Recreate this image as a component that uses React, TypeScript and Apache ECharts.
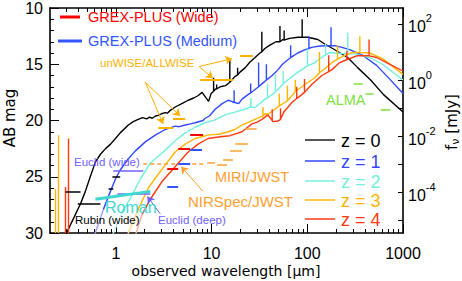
import React, { useEffect, useRef } from "react";
import * as echarts from "echarts";

// ---------- axis ticks ----------
const xMajorTicks = [1, 10, 100, 1000];
const xMinorTicks = [0.3, 0.4, 0.5, 0.6, 0.7, 0.8, 0.9, 2, 3, 4, 5, 6, 7, 8, 9, 20, 30, 40, 50, 60, 70, 80, 90, 200, 300, 400, 500, 600, 700, 800, 900];
const yMajorTicks = [10, 15, 20, 25, 30];
const yMinorTicks = [11, 12, 13, 14, 16, 17, 18, 19, 21, 22, 23, 24, 26, 27, 28, 29];
const fluxTickExponents = [-5, -4, -3, -2, -1, 0, 1, 2];
const fluxLabelExponents = [-4, -2, 0, 2];
const AB_OF_1MJY = 16.4; // AB = 16.4 - 2.5 log10(f / mJy)
const X_MIN = 0.205, X_MAX = 1000, AB_MIN = 10, AB_MAX = 30;

// ---------- SED curves: [wavelength um, AB mag] ----------
const z0Continuum = [[0.27, 31.0], [0.313, 29.8], [0.352, 28.9], [0.427, 27.4], [0.48, 26.3], [0.54, 25.0], [0.61, 23.7], [0.69, 23.0], [0.78, 22.5], [0.88, 22.1], [0.99, 21.6], [1.11, 21.1], [1.35, 20.4], [1.52, 20.1], [1.71, 19.9], [1.9, 19.75], [2.1, 19.85], [2.25, 19.7], [2.4, 19.8], [2.6, 19.6], [2.77, 19.55], [3.0, 19.4], [3.28, 19.3], [3.45, 19.35], [3.7, 19.1], [4.17, 18.8], [5.0, 18.45], [5.7, 18.2], [6.5, 18.0], [7.2, 17.8], [7.96, 17.5], [8.6, 17.9], [9.3, 18.3], [9.9, 17.6], [11.0, 17.2], [12.3, 17.0], [14.0, 16.9], [15.6, 16.6], [17.5, 16.1], [19.8, 15.7], [22.5, 15.3], [25.2, 14.8], [28.5, 14.4], [32, 14.0], [36, 13.6], [40.7, 13.3], [47, 13.0], [55.6, 12.8], [65, 12.7], [80, 12.6], [101, 12.6], [129, 12.8], [152, 13.2], [184, 13.6], [264, 14.4], [336, 15.3], [459, 16.4], [626, 17.7], [1000, 19.25]];
const z0Lines = [[10.5, 17.4, 16.2], [11.3, 17.2, 16.8], [15.5, 16.6, 14.6], [18.7, 15.95, 15.3], [33.5, 13.9, 12.1], [51.8, 13.0, 11.6], [57.3, 12.85, 12.0], [88.4, 12.6, 11.0]];

const z1Lower = [[0.597, 30.2], [0.741, 27.9]];
const z1Continuum = [[0.741, 27.9], [0.877, 26.3], [0.99, 25.2], [1.11, 24.4], [1.35, 23.4], [1.6, 22.7], [2.03, 21.9], [2.58, 21.3], [3.28, 20.8], [4.17, 20.5], [4.6, 20.55], [5.3, 20.4], [6.0, 20.3], [6.73, 20.2], [8.15, 20.0], [8.55, 19.8], [9.5, 19.6], [10.9, 19.0], [12.9, 18.5], [14.9, 18.2], [16.2, 18.3], [17.6, 18.4], [19.2, 18.5], [20.8, 18.1], [24.0, 17.7], [27, 17.4], [30.5, 17.05], [34, 16.7], [38.8, 16.3], [43, 16.0], [49.3, 15.5], [55, 15.0], [62.7, 14.6], [70, 14.3], [79.6, 14.0], [95, 13.7], [111, 13.5], [130, 13.4], [152, 13.35], [193, 13.35], [230, 13.5], [277, 13.7], [378, 14.2], [530, 15.1], [723, 16.3], [1000, 17.6]];
const z1Lines = [[17.2, 18.4, 17.3], [25.6, 17.55, 16.7], [31, 17.0, 14.85], [37.4, 16.4, 15.0], [67, 14.42, 13.3], [104, 13.6, 12.5], [177, 13.35, 11.7]];

const z2Lower = [[0.92, 30.2], [1.17, 28.1]];
const z2Continuum = [[1.17, 28.1], [1.42, 26.9], [1.8, 25.2], [2.29, 23.8], [3.12, 22.8], [4.17, 21.8], [5.3, 21.1], [6.73, 20.6], [8.55, 20.2], [10.9, 19.95], [13.8, 19.5], [17.6, 19.25], [22.3, 19.0], [25.5, 18.8], [28.4, 18.85], [31, 18.6], [36.1, 18.1], [45.8, 17.5], [58.3, 16.6], [74.1, 15.9], [94.2, 15.3], [120, 14.85], [152, 14.2], [172, 13.95], [230, 14.05], [325, 14.1], [448, 14.4], [611, 15.0], [1000, 16.4]];
const z2Lines = [[25.8, 18.8, 18.0], [38.4, 18.0, 16.8], [46.5, 17.45, 15.9], [56, 16.75, 15.6], [100.5, 15.15, 13.6], [155, 14.2, 13.2], [265, 14.07, 12.2]];

const z3Lower = [[1.32, 30.2], [1.67, 28.1]];
const z3Continuum = [[1.67, 28.1], [2.18, 26.0], [3.05, 24.3], [4.17, 22.8], [5.3, 22.1], [6.73, 21.6], [9.2, 21.3], [12.3, 21.2], [14.9, 21.0], [17.5, 20.8], [20.8, 20.4], [24.5, 20.15], [28.4, 19.9], [32, 19.7], [36.1, 19.4], [39, 19.45], [45.8, 19.0], [58.3, 18.4], [74.1, 17.5], [94.2, 16.8], [120, 16.2], [152, 15.4], [185, 14.8], [234, 14.3], [298, 13.95], [448, 14.0], [611, 14.5], [1000, 15.9]];
const z3Lines = [[34.4, 19.6, 18.8], [51, 18.7, 17.6], [62, 18.25, 16.9], [75, 17.45, 16.4], [134, 15.75, 13.9], [207, 14.55, 13.3], [354, 13.95, 12.5]];

const z4Lower = [[1.6, 30.2], [1.89, 28.3]];
const z4Continuum = [[1.89, 28.3], [2.29, 27.0], [3.05, 25.4], [3.88, 24.4], [4.48, 23.8], [5.69, 22.8], [7.23, 22.1], [9.2, 21.6], [12.3, 21.45], [15.6, 21.35], [20.8, 21.0], [26.4, 20.3], [30, 20.15], [33.6, 19.9], [38.8, 19.5], [43.7, 20.1], [49.3, 20.05], [56.9, 19.25], [69, 18.4], [87.7, 17.7], [111, 16.8], [142, 16.0], [180, 15.5], [218, 14.85], [258, 14.6], [328, 14.25], [417, 14.25], [530, 14.4], [673, 14.85], [1000, 15.6]];
const z4Lines = [[43, 20.0, 19.0], [52.5, 19.9, 18.9], [77.5, 18.05, 17.0], [93.5, 17.5, 16.3], [167.5, 15.65, 14.2], [259, 14.6, 13.8], [442, 14.25, 12.8]];

// vertical emission features at short wavelength: [wavelength, top AB]
const z3UvLines = [[0.234, 26.1], [0.252, 21.3]];
const z4UvLines = [[0.298, 25.9], [0.32, 21.6]];

// ---------- survey depths: [lambda1, lambda2, AB] ----------
const grexWide = [[3.44, 4.48, 24.3], [4.48, 5.97, 22.5], [5.97, 8.15, 21.3]];
const grexMedium = [[3.44, 4.48, 25.9], [4.48, 5.97, 23.8], [5.97, 7.96, 22.6]];
const unwise = [[2.77, 3.97, 20.6], [3.97, 5.3, 19.8], [7.6, 16.7, 16.4], [19.8, 27, 14.2]];
const miri = [[9.0, 10.85, 23.75], [11.4, 14.5, 23.9], [13.2, 16.7, 23.5], [15.6, 20.8, 22.7], [17.6, 24, 22.1], [22.3, 29.6, 20.75]];
const alma = [[305, 378, 16.7], [406, 493, 17.65], [583, 741, 19.0]];
const rubinWide = [[0.298, 0.427, 26.3], [0.40, 0.69, 27.4], [0.84, 0.94, 26.1], [0.92, 1.11, 25.0]];
const euclidWide = [[0.94, 1.93, 24.5]];
const euclidDeep = [[1.04, 2.29, 26.55]];
const nirspecDashed = [[1.93, 8.6, 23.8]];
const romanSlope = [[0.611, 27.0], [2.29, 26.3]];

// ---------- annotation arrows: [[l1, m1], [l2, m2]] ----------
const unwiseArrows = [[[2.03, 16.6], [3.12, 20.3]], [[2.03, 16.6], [4.7, 19.6]], [[7.41, 15.2], [10.3, 16.25]], [[7.41, 15.2], [16.4, 14.5]]];
const nirspecArrow = [[[8.15, 26.3], [4.81, 24.1]]];
const euclidDeepArrow = [[[2.91, 28.3], [2.13, 26.75]]];

const C = {
  black: "#000000",
  blue: "#3048ff",
  blueLight: "#9c9cff",
  cyan: "#72f0dc",
  cyanLight: "#bff6ee",
  yellow: "#ffb400",
  yellowLight: "#ffd98c",
  red: "#ff3a10",
  redLight: "#ffaa9e",
  grexRed: "#ff0000",
  grexBlue: "#3355ff",
  jwst: "#ffa030",
  wise: "#ffb000",
  alma: "#80e040",
  euclid: "#7060ff",
  roman: "#3ed8d0",
};
const FONT = '"Liberation Sans", Arial, Helvetica, sans-serif';
const WFONT = '"DejaVu Sans", sans-serif';

const lg = (v: number) => Math.log10(v);

function buildCurve(cont: number[][], lines: number[][]) {
  const groups: { l: number; pts: number[][] }[] = cont.map(([l, m]) => ({ l, pts: [[l, m]] }));
  lines.forEach(([l, b, t]) => groups.push({ l, pts: [[l, b], [l, t], [l, b]] }));
  groups.sort((a, b) => a.l - b.l);
  return groups.flatMap((g) => g.pts).map(([l, m]) => [lg(l), m]);
}
const toXY = (pts: number[][]) => pts.map(([l, m]) => [lg(l), m]);

const curve = (data: number[][], color: string, width = 1.4) => ({
  type: "line",
  data,
  xAxisIndex: 0,
  yAxisIndex: 0,
  showSymbol: false,
  symbol: "none",
  silent: true,
  lineStyle: { color, width },
  itemStyle: { color },
  z: 2,
});

const segs = (items: number[][][], color: string, width = 1.5, type: any = "solid", arrow = false) => ({
  type: "lines",
  coordinateSystem: "cartesian2d",
  xAxisIndex: 0,
  yAxisIndex: 0,
  silent: true,
  clip: true,
  symbol: arrow ? ["none", "arrow"] : "none",
  symbolSize: arrow ? [0, 7] : 0,
  lineStyle: { color, width, type, opacity: 1 },
  itemStyle: { color },
  data: items.map((c) => ({ coords: c.map(([l, m]) => [lg(l), m]) })),
  z: 4,
});
const bars = (rows: number[][], color: string, width = 1.5, type: any = "solid") =>
  segs(rows.map(([l1, l2, m]) => [[l1, m], [l2, m]]), color, width, type);
const verticals = (rows: number[][], color: string) =>
  segs(rows.map(([l, t]) => [[l, AB_MAX], [l, t]]), color, 1.4);

function buildOption() {
  const xBase = {
    type: "value",
    min: lg(X_MIN),
    max: lg(X_MAX),
    splitLine: { show: false },
  };
  const yBase = { type: "value", min: AB_MIN, max: AB_MAX, inverse: true, splitLine: { show: false } };
  const frameLine = { show: true, onZero: false, lineStyle: { color: "#000", width: 1.6 } };
  const noLine = { show: false, onZero: false };
  const tick = (vals: number[], length: number) => ({ show: true, inside: true, length, customValues: vals, lineStyle: { color: "#000", width: 1 } });

  const xMinor = xMinorTicks.map(lg);
  const xMajor = xMajorTicks.map(lg);

  return {
    animation: false,
    backgroundColor: "#ffffff",
    grid: { left: 50, right: 59, top: 6, bottom: 48, containLabel: false },
    xAxis: [
      { ...xBase, position: "bottom", axisLine: frameLine, axisTick: tick(xMinor, 4), axisLabel: { show: false } },
      {
        ...xBase, position: "bottom", axisLine: noLine, axisTick: tick(xMajor, 9),
        axisLabel: { show: true, customValues: xMajor, margin: 12, fontSize: 16, fontFamily: FONT, color: "#000", formatter: (v: number) => String(Math.round(Math.pow(10, v))) },
      },
      { ...xBase, position: "top", axisLine: frameLine, axisTick: tick(xMinor, 4), axisLabel: { show: false } },
      { ...xBase, position: "top", axisLine: noLine, axisTick: tick(xMajor, 9), axisLabel: { show: false } },
    ],
    yAxis: [
      { ...yBase, position: "left", axisLine: frameLine, axisTick: tick(yMinorTicks, 4), axisLabel: { show: false } },
      {
        ...yBase, position: "left", axisLine: noLine, axisTick: tick(yMajorTicks, 9),
        axisLabel: { show: true, customValues: yMajorTicks, margin: 7, fontSize: 16, fontFamily: FONT, color: "#000" },
      },
      {
        type: "value", position: "right",
        min: (AB_OF_1MJY - AB_MAX) / 2.5, max: (AB_OF_1MJY - AB_MIN) / 2.5,
        splitLine: { show: false }, axisLine: frameLine, axisTick: tick(fluxTickExponents, 5),
        axisLabel: {
          show: true, customValues: fluxLabelExponents, margin: 5,
          formatter: (v: number) => `{b|10}{s|${v}}`,
          rich: {
            b: { fontSize: 16, fontFamily: FONT, color: "#000", padding: [6, 0, 0, 0] },
            s: { fontSize: 11, fontFamily: FONT, color: "#000", verticalAlign: "top" },
          },
        },
      },
    ],
    series: [
      curve(buildCurve(z0Continuum, z0Lines), C.black),
      curve(toXY(z1Lower), C.blueLight),
      curve(buildCurve(z1Continuum, z1Lines), C.blue),
      curve(toXY(z2Lower), C.cyanLight),
      curve(buildCurve(z2Continuum, z2Lines), C.cyan),
      curve(toXY(z3Lower), C.yellowLight),
      curve(buildCurve(z3Continuum, z3Lines), C.yellow),
      curve(toXY(z4Lower), C.redLight),
      curve(buildCurve(z4Continuum, z4Lines), C.red),
      verticals(z3UvLines, C.yellow),
      verticals(z4UvLines, C.red),
      bars(rubinWide, C.black, 1.5),
      bars(euclidWide, C.euclid, 1.5),
      bars(euclidDeep, C.euclid, 1.5),
      segs([romanSlope], C.roman, 3),
      bars(nirspecDashed, C.jwst, 1.5, [4, 3]),
      bars(grexWide, C.grexRed, 2),
      bars(grexMedium, C.grexBlue, 2),
      bars(unwise, C.wise, 2),
      bars(miri, C.jwst, 1.5),
      bars(alma, C.alma, 1.5),
      segs(unwiseArrows, C.wise, 1, "solid", true),
      segs(nirspecArrow, C.jwst, 1, "solid", true),
      segs(euclidDeepArrow, C.euclid, 1, "solid", true),
    ],
    graphic: buildGraphic(),
  };
}

function txt(text: string, x: number, y: number, fill: string, size: number, family = FONT, extra: any = {}) {
  return {
    type: "text", x, y, silent: true, z: 100, ...extra,
    style: { text, fill, fontSize: size, fontFamily: family, align: extra.align || "left", verticalAlign: "middle", textAlign: extra.align || "left", textVerticalAlign: "middle" },
  };
}
function seg(x1: number, y1: number, x2: number, y2: number, stroke: string, lineWidth: number) {
  return { type: "line", silent: true, z: 100, shape: { x1, y1, x2, y2 }, style: { stroke, lineWidth } };
}

const legendZ = [
  { label: "z = 0", line: "#555555", text: "#000000", y: 140 },
  { label: "z = 1", line: C.blue, text: C.blue, y: 161 },
  { label: "z = 2", line: C.cyan, text: C.cyan, y: 181 },
  { label: "z = 3", line: C.yellow, text: C.yellow, y: 200 },
  { label: "z = 4", line: C.red, text: C.red, y: 219 },
];

function buildGraphic() {
  const els: any[] = [
    seg(60, 17, 80, 17, C.grexRed, 3),
    txt("GREX-PLUS (Wide)", 88, 17, C.grexRed, 14.5),
    seg(58, 41, 82, 41, C.grexBlue, 3),
    txt("GREX-PLUS (Medium)", 88, 41, C.grexBlue, 14.5),
    txt("unWISE/ALLWISE", 100, 63, C.wise, 11.5),
    txt("MIRI/JWST", 215, 177, C.jwst, 14.5),
    txt("NIRSpec/JWST", 188, 201, C.jwst, 15),
    txt("ALMA", 326, 100, C.alma, 14.5),
    txt("Euclid (wide)", 74, 162, C.euclid, 11.5),
    txt("Roman", 105, 207, C.roman, 16),
    txt("Rubin (wide)", 75, 220, "#000", 11.5),
    txt("Euclid (deep)", 158, 220, C.euclid, 11.5),
    txt("observed wavelength [\u03bcm]", 226, 271, "#000", 14, WFONT, { align: "center" }),
    txt("AB mag", 10, 118, "#000", 15, WFONT, { align: "center", rotation: Math.PI / 2 }),
    {
      type: "text", x: 452, y: 122, rotation: Math.PI / 2, silent: true, z: 100,
      style: {
        text: "{a|f}{n|\u03bd}{a| [mJy]}",
        align: "center", verticalAlign: "middle", textAlign: "center", textVerticalAlign: "middle",
        rich: {
          a: { fontSize: 15, fontFamily: WFONT, fill: "#000", color: "#000" },
          n: { fontSize: 11, fontFamily: WFONT, fill: "#000", color: "#000", verticalAlign: "bottom", padding: [6, 0, 0, 0] },
        },
      },
    },
  ];
  legendZ.forEach((r) => {
    els.push(seg(305, r.y, 335, r.y, r.line, r.label === "z = 0" ? 2 : 1.5));
    els.push(txt(r.label, 341, r.y + 1, r.text, 18));
  });
  return els;
}

export default function App() {
  const ref = useRef<HTMLDivElement>(null);
  useEffect(() => {
    document.body.style.margin = "0";
    if (!ref.current) return;
    const chart = echarts.init(ref.current, undefined, { renderer: "svg" });
    chart.setOption(buildOption() as any);
    return () => chart.dispose();
  }, []);
  return <div ref={ref} style={{ width: 462, height: 281, background: "#fff" }} />;
}
